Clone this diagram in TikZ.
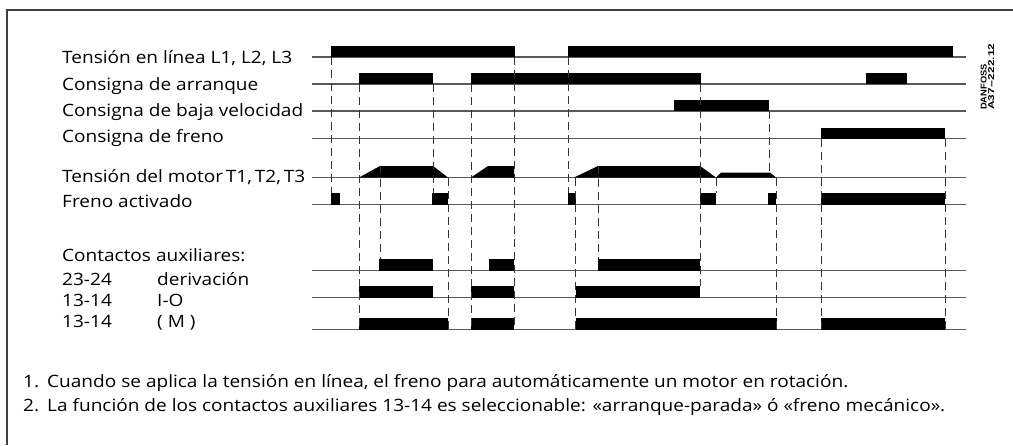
\documentclass[tikz,border=0pt]{standalone}
\usepackage{fontspec}
\setmainfont{Open Sans}[FakeStretch=1.12]
\newfontfamily\codefont{Liberation Sans}
\usetikzlibrary{positioning}

\begin{document}
\begin{tikzpicture}[x=1pt, y=-1pt, >=stealth]
    % Styles
    \tikzstyle{label} = [anchor=base west, inner sep=0pt, font=\fontsize{17}{20}\selectfont]
    \tikzstyle{axis} = [draw=black!65, line width=1.2pt]
    \tikzstyle{pulse} = [fill=black]
    \tikzstyle{guide} = [draw=black!80, line width=0.9pt, dash pattern=on 8pt off 5pt]
    \tikzstyle{frame} = [draw=black!75, line width=1.4pt]

    \useasboundingbox (0,0) rectangle (1013,445);
    \draw[frame] (7,445) -- (7,10) -- (1013,10);

    % Nodes
    \node[label] (linea) at (62,63.3) {Tensión en línea L1, L2, L3};
    \node[label] (arranque) at (62,90) {Consigna de arranque};
    \node[label] (baja) at (62,116.5) {Consigna de baja velocidad};
    \node[label] (freno) at (62,142) {Consigna de freno};
    \node[label] (motor) at (62,182.5) {Tensión del motor\,T1,\,T2,\,T3};
    \node[label] (activado) at (62,207.7) {Freno activado};
    \node[label] (aux) at (62,261.5) {Contactos auxiliares:};
    \node[label] (c2324) at (62,285.5) {23-24};
    \node[label] (c1314a) at (62,306) {13-14};
    \node[label] (c1314b) at (62,327.5) {13-14};
    \node[label] (deriv) at (157,285.5) {derivación};
    \node[label] (io) at (157,306) {I-O};
    \node[label] (mec) at (157,327.5) {( M )};
    \node[label] (note1) at (23,387) {\makebox[24pt][l]{1.}Cuando se aplica la tensión en línea, el freno para automáticamente un motor en rotación.};
    \node[label] (note2) at (23,411) {\makebox[24pt][l]{2.}La función de los contactos auxiliares 13-14 es seleccionable: «arranque-parada» ó «freno mecánico».};
    \node[rotate=90, anchor=north west, inner sep=0pt, align=left,
          font=\codefont\bfseries\fontsize{8.5}{7.4}\selectfont] (code) at (980.5,110)
          {\scalebox{1.1}[1]{DANFOSS}\\\scalebox{1.4}[1]{A37--222.12}};

    % Signal lines
    \foreach \y in {57,84,111,138.5,177.5,204.5,270.5,297.5,329.5}
        \draw[axis] (312,\y) -- (966,\y);

    % Pulses
    \foreach \a/\b in {331/515, 568/953}
        \fill[pulse] (\a,45.7) rectangle (\b,57);
    \foreach \a/\b in {359/433, 471/701, 866/907}
        \fill[pulse] (\a,73) rectangle (\b,84);
    \fill[pulse] (674,100) rectangle (769,111);
    \fill[pulse] (821,127.5) rectangle (945,138.5);
    \fill[pulse] (359,177.5) -- (380,166) -- (433,166) -- (448,177.5) -- cycle;
    \fill[pulse] (471,177.5) -- (488,166) -- (514,166) -- (514,177.5) -- cycle;
    \fill[pulse] (574,177.5) -- (598,166) -- (700,166) -- (716,177.5) -- cycle;
    \fill[pulse] (716,177.5) -- (721,172.5) -- (770,172.5) -- (776,177.5) -- cycle;
    \foreach \a/\b in {331/340, 432/448, 568/576, 700/716, 768/776, 821/945}
        \fill[pulse] (\a,193) rectangle (\b,204.5);
    \foreach \a/\b in {379/433, 489/514, 598/700}
        \fill[pulse] (\a,259) rectangle (\b,270.5);
    \foreach \a/\b in {359/433, 471/514, 576/700}
        \fill[pulse] (\a,286) rectangle (\b,297.5);
    \foreach \a/\b in {359/448, 471/514, 576/777, 821/945}
        \fill[pulse] (\a,317.5) rectangle (\b,329.5);

    % Guides
    \foreach \x/\ya/\yb in {331/57/193, 359/84/329.5, 380/166/259, 433/84/193,
                            448/177.5/329.5, 471/84/329.5, 514/57/329.5, 568/57/193,
                            575/177.5/329.5, 598/166/259, 700/84/286, 716/177.5/193,
                            769/111/172.5, 776/177.5/329.5, 821/138.5/329.5, 945/138.5/329.5}
        \draw[guide] (\x,\ya) -- (\x,\yb);
\end{tikzpicture}
\end{document}
